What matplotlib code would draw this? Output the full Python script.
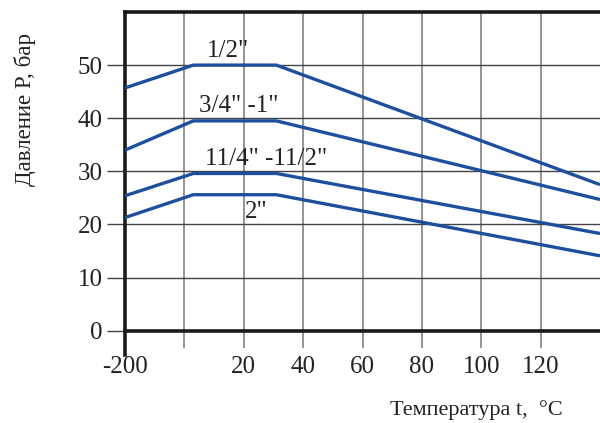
from matplotlib import pyplot as plt

plt.rcParams['font.family'] = ['Liberation Serif', 'DejaVu Serif']

# temperature breakpoints (deg C) and pressure (bar) for each pipe size
t_pts = [-20, 3, 31, 140]
p_half = [45.7, 50.0, 50.0, 27.5]
p_34_1 = [34.0, 39.5, 39.5, 24.7]
p_114_112 = [25.4, 29.6, 29.6, 18.3]
p_2 = [21.3, 25.6, 25.6, 14.1]

series = [p_half, p_34_1, p_114_112, p_2]
names = ['1/2"', '3/4" -1"', '11/4" -11/2"', '2"']
label_pos = [(14.8, 52.6), (18.4, 42.3), (27.6, 32.4), (24.3, 22.4)]

xticks = [-20, 0, 20, 40, 60, 80, 100, 120]
xticklabels = ['-200', '', '20', '40', '60', '80', '100', '120']
yticks = [0, 10, 20, 30, 40, 50]

blue = '#1d4f9e'

fig = plt.figure(figsize=(6, 4.23), dpi=100)
ax = fig.add_axes([125/600, 1-330.7/423, 475/600, (330.7-12)/423])

for p, name, (tx, ty) in zip(series, names, label_pos):
    ax.plot(t_pts, p, color=blue, lw=2.4, solid_capstyle='butt', zorder=3)
    ax.text(tx, ty, name, ha='center', va='center', fontsize=18, color='#222222')

ax.set_xlim(-20, 140)
ax.set_ylim(0, 60)
ax.set_xticks(xticks)
ax.set_xticklabels(xticklabels)
ax.set_yticks(yticks)

ax.grid(axis='x', color='#777777', lw=1.1, zorder=1)
ax.grid(axis='y', color='#444444', lw=1.0, zorder=1)
ax.tick_params(axis='x', direction='out', length=12, width=1.1, color='#777777',
               pad=6, labelsize=18, labelcolor='#222222')
ax.tick_params(axis='y', direction='out', length=13, width=1.0, color='#444444',
               pad=3, labelsize=18, labelcolor='#222222')

ax.spines['right'].set_visible(False)
for s in ['left', 'top', 'bottom']:
    ax.spines[s].set_linewidth(2.6)
    ax.spines[s].set_color('#1a1a1a')
ax.spines['left'].set_bounds(-4.5, 60)

fig.text(25/600, 1-109/423, 'Давление P, бар', rotation=90, ha='center', va='center',
         fontsize=16.5, color='#222222')
fig.text(563/600, 1-410/423, 'Температура t,  °C', ha='right', va='center',
         fontsize=16, color='#222222')

plt.savefig('out.png', dpi=100)
